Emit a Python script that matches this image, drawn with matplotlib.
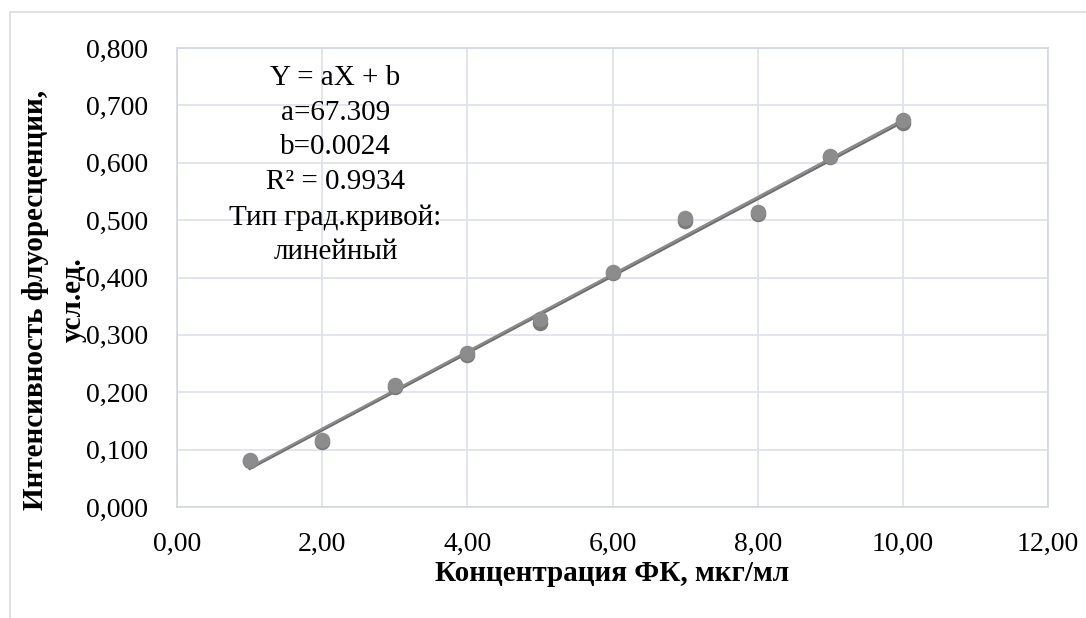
import numpy as np
import matplotlib.pyplot as plt
from matplotlib.patches import Rectangle

# концентрация и две серии измерений (почти совпадают)
conc = [1, 2, 3, 4, 5, 6, 7, 8, 9, 10]
intens1 = [0.080, 0.114, 0.209, 0.265, 0.320, 0.407, 0.499, 0.511, 0.610, 0.670]
intens2 = [0.082, 0.116, 0.213, 0.268, 0.327, 0.409, 0.504, 0.514, 0.612, 0.675]
xticks = [0, 2, 4, 6, 8, 10, 12]
yticks = [0.0, 0.1, 0.2, 0.3, 0.4, 0.5, 0.6, 0.7, 0.8]

plt.rcParams['font.family'] = ['Liberation Serif', 'DejaVu Serif']

fig = plt.figure(figsize=(10.86, 6.18), dpi=100)
fig.patches.append(Rectangle((10 / 1086, -0.1), 1.2, 1 - 12 / 618 + 0.1,
                             transform=fig.transFigure, fill=False,
                             edgecolor='#d9dce3', linewidth=1.2))
ax = fig.add_axes([177 / 1086, 1 - 507 / 618, (1048 - 177) / 1086, (507 - 48) / 618])

grid_c = '#dfe3ea'
for s in ax.spines.values():
    s.set_color('#d3d7de')
    s.set_linewidth(1.2)
ax.grid(True, color=grid_c, linewidth=1.3)
ax.set_axisbelow(True)

# линии тренда
for ys, c in [(intens1, '#6e6e6e'), (intens2, '#8a8a8a')]:
    k, b = np.polyfit(conc, ys, 1)
    xx = np.array([conc[0], conc[-1]])
    ax.plot(xx, k * xx + b, color=c, linewidth=1.6, zorder=3)

ax.scatter(conc, intens1, s=125, color='#7a7a7a', zorder=4, linewidths=0)
ax.scatter(conc, intens2, s=125, color='#8c8c8c', zorder=5, linewidths=0)

ax.set_xlim(0, 12)
ax.set_ylim(0, 0.8)
ax.set_xticks(xticks)
ax.set_yticks(yticks)
ax.set_xticklabels([f'{v:.2f}'.replace('.', ',') for v in xticks])
ax.set_yticklabels([f'{v:.3f}'.replace('.', ',') for v in yticks])
ax.tick_params(length=0, labelsize=20)
ax.tick_params(axis='x', pad=18)
ax.tick_params(axis='y', pad=21)

ax.set_xlabel('Концентрация ФК, мкг/мл', fontsize=21, fontweight='bold', labelpad=0)
ax.xaxis.set_label_coords(0.5, -0.1145)
ax.text(-0.1406, 0.451, 'Интенсивность флуоресценции,\nусл.ед.', transform=ax.transAxes,
        rotation=90, ha='center', va='center', multialignment='center',
        fontsize=21, fontweight='bold', linespacing=1.5)

ax.text(0.182, 0.963, 'Y = aX + b\na=67.309\nb=0.0024\nR² = 0.9934\nТип град.кривой:\nлинейный',
        transform=ax.transAxes, ha='center', va='top', fontsize=21, linespacing=1.435)

plt.savefig('out.png', dpi=100)
